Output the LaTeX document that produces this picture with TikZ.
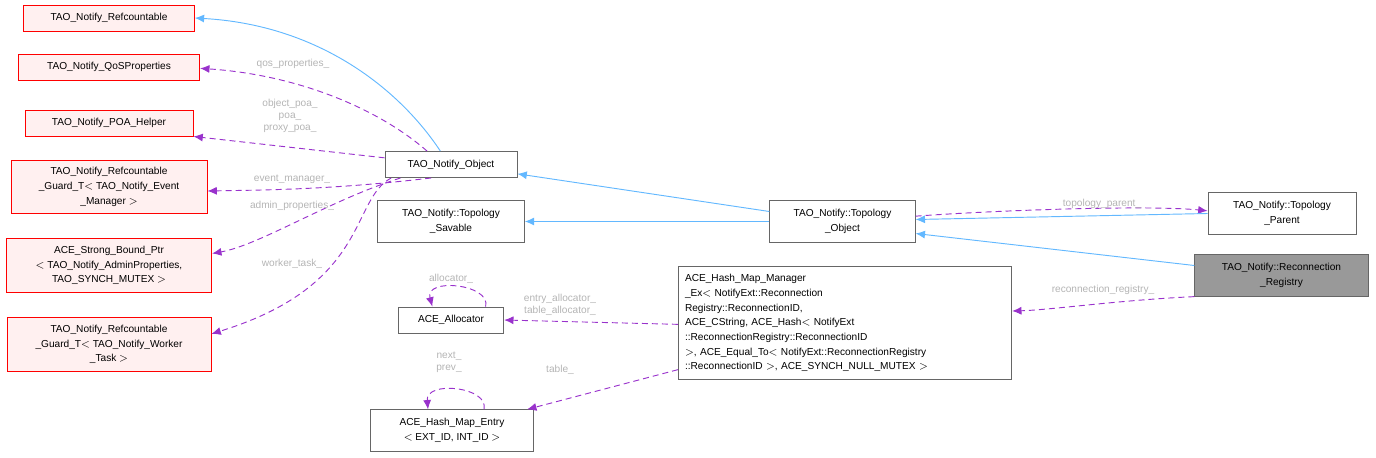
\documentclass[tikz,border=0pt]{standalone}
\usepackage{fontspec}
\setmainfont{Liberation Sans}
\usetikzlibrary{arrows.meta}
\definecolor{pur}{RGB}{153,50,204}
\definecolor{blu}{RGB}{99,184,255}
\definecolor{lab}{RGB}{180,180,180}
\definecolor{bx}{RGB}{102,102,102}
\definecolor{rf}{RGB}{255,240,240}
\begin{document}
\begin{tikzpicture}[x=0.75pt,y=-0.75pt,
  every node/.style={font=\fontsize{7.6}{11}\selectfont, align=center, inner sep=0pt},
  box/.style={draw=bx, fill=white, line width=0.7pt, minimum height=19.5pt, inner xsep=3pt},
  rbox/.style={box, draw=red, fill=rf},
  gbox/.style={box, fill=black!40},
  inh/.style={draw=blu, line width=0.7pt, -{Latex[length=7pt,width=6pt]}},
  use/.style={draw=pur, line width=0.7pt, dashed, dash pattern=on 4.5pt off 3pt, -{Latex[length=7pt,width=6pt]}},
  lbl/.style={text=lab}]
\useasboundingbox (0,0) rectangle (1376,457);
\node[rbox, minimum width=128pt] (rc) at (109,18) {TAO\_Notify\_Refcountable};
\node[rbox, minimum width=136pt] (qos) at (109,67) {TAO\_Notify\_QoSProperties};
\node[rbox, minimum width=126pt] (poa) at (109,123) {TAO\_Notify\_POA\_Helper};
\node[rbox, minimum width=147pt, minimum height=40pt] (eg) at (109,187) {TAO\_Notify\_Refcountable\\\_Guard\_T$<$ TAO\_Notify\_Event\\\_Manager $>$};
\node[rbox, minimum width=154pt, minimum height=40pt] (sb) at (109,265.5) {ACE\_Strong\_Bound\_Ptr\\$<$ TAO\_Notify\_AdminProperties,\\TAO\_SYNCH\_MUTEX $>$};
\node[rbox, minimum width=153pt, minimum height=40pt] (wg) at (109,344.5) {TAO\_Notify\_Refcountable\\\_Guard\_T$<$ TAO\_Notify\_Worker\\\_Task $>$};
\node[box, minimum width=99pt] (obj) at (451,164.5) {TAO\_Notify\_Object};
\node[box, minimum width=110pt, minimum height=31pt] (sav) at (451,221.5) {TAO\_Notify::Topology\\\_Savable};
\node[box, minimum width=79pt] (al) at (451,320) {ACE\_Allocator};
\node[box, minimum width=122pt, minimum height=31pt] (en) at (452,430.5) {ACE\_Hash\_Map\_Entry\\$<$ EXT\_ID, INT\_ID $>$};
\node[box, minimum width=109pt, minimum height=31pt] (to) at (842.5,221.5) {TAO\_Notify::Topology\\\_Object};
\node[box, minimum width=250pt, minimum height=85pt, text width=240pt, align=left] (hm) at (845,323) {ACE\_Hash\_Map\_Manager\\\_Ex$<$ NotifyExt::Reconnection\\Registry::ReconnectionID,\\ ACE\_CString, ACE\_Hash$<$ NotifyExt\\::ReconnectionRegistry::ReconnectionID\\ $>$, ACE\_Equal\_To$<$ NotifyExt::ReconnectionRegistry\\::ReconnectionID $>$, ACE\_SYNCH\_NULL\_MUTEX $>$};
\node[box, minimum width=111pt, minimum height=31pt] (tp) at (1282,213.5) {TAO\_Notify::Topology\\\_Parent};
\node[gbox, minimum width=130pt, minimum height=31pt] (rr) at (1281.5,275.5) {TAO\_Notify::Reconnection\\\_Registry};

\draw[inh] ([xshift=-8pt]obj.north) .. controls (400,90) and (320,25) .. (rc.east);
\draw[use] ([xshift=-18pt]obj.north) .. controls (380,110) and (300,75) .. ([yshift=-1pt]qos.east);
\node[lbl] at (293,64) {qos\_properties\_};
\draw[use] ([yshift=5pt]obj.west) -- (poa.south east);
\node[lbl] at (290,116) {object\_poa\_\\[-2pt]poa\_\\[-2pt]proxy\_poa\_};
\draw[use] ([xshift=35pt]obj.south west) .. controls (330,190) and (260,190) .. ([yshift=-3pt]eg.east);
\node[lbl] at (292,179) {event\_manager\_};
\draw[use] ([xshift=12pt]obj.south west) .. controls (330,200) and (260,245) .. ([yshift=9pt]sb.east);
\node[lbl] at (292,206) {admin\_properties\_};
\draw[use] ([xshift=5pt]obj.south west) .. controls (350,200) and (370,285) .. ([yshift=8pt]wg.east);
\node[lbl] at (292,264) {worker\_task\_};
\draw[inh] ([yshift=7.5pt]to.west) -- ([yshift=-7pt]obj.east);
\draw[inh] (to.west) -- (sav.east);
\draw[use] ([yshift=4pt]to.east) .. controls (1000,210) and (1150,205) .. ([yshift=2pt]tp.west);
\node[lbl] at (1102,204) {topology\_parent\_};
\draw[inh] (tp.west) -- ([yshift=1.5pt]to.east);
\draw[inh] ([yshift=7.5pt]rr.west) -- ([yshift=-9pt]to.east);
\draw[use] (rr.south west) .. controls (1120,300) and (1050,310) .. ([yshift=9pt]hm.east);
\node[lbl] at (1103,290) {reconnection\_registry\_};
\draw[use] ([yshift=-1pt]hm.west) -- (al.east);
\node[lbl] at (560,305) {entry\_allocator\_\\[-2pt]table\_allocator\_};
\draw[use] ([yshift=-35pt]hm.west) -- ([xshift=-5pt]en.north east);
\node[lbl] at (560,370) {table\_};
\draw[use] ([xshift=26pt]al.north) .. controls ([xshift=30pt,yshift=17pt]al.north) and ([xshift=-20pt,yshift=22pt]al.north) .. ([xshift=-14pt]al.north);
\node[lbl] at (451,279) {allocator\_};
\draw[use] ([xshift=24pt]en.north) .. controls ([xshift=28pt,yshift=17pt]en.north) and ([xshift=-20pt,yshift=22pt]en.north) .. ([xshift=-18pt]en.north);
\node[lbl] at (449,362) {next\_\\[-2pt]prev\_};
\end{tikzpicture}
\end{document}
